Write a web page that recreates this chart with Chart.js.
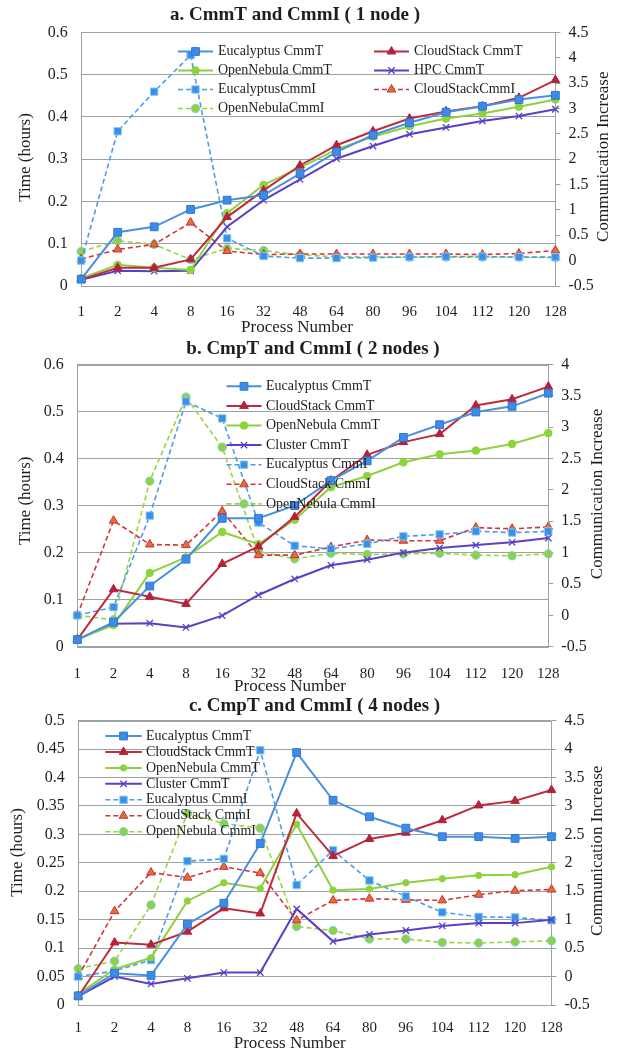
<!DOCTYPE html>
<html>
<head>
<meta charset="utf-8">
<title>CmmT and CmmI</title>
<script src="https://cdn.jsdelivr.net/npm/chart.js@4.4.0/dist/chart.umd.min.js"></script>
<style>
  html, body { margin: 0; padding: 0; background: #fff; }
  #wrap { position: relative; width: 618px; height: 1053px; overflow: hidden; }
  canvas { position: absolute; left: 0; }
</style>
</head>
<body>
<div id="wrap">
  <canvas id="chart-a" width="618" height="345" style="top:0"></canvas>
  <canvas id="chart-b" width="618" height="360" style="top:340px"></canvas>
  <canvas id="chart-c" width="618" height="363" style="top:690px"></canvas>
</div>
<script>
// Categories (process number)
const processNumbers = ['1', '2', '4', '8', '16', '32', '48', '64', '80', '96', '104', '112', '120', '128'];

// a. 1 node -- CmmT in hours (left axis), CmmI on right axis
const aEucalyptusCmmT = [0.016, 0.127, 0.140, 0.181, 0.203, 0.215, 0.266, 0.317, 0.357, 0.386, 0.411, 0.425, 0.441, 0.451];
const aCloudStackCmmT = [0.015, 0.043, 0.043, 0.063, 0.163, 0.226, 0.285, 0.333, 0.366, 0.396, 0.413, 0.425, 0.445, 0.487];
const aOpenNebulaCmmT = [0.018, 0.050, 0.043, 0.038, 0.172, 0.239, 0.280, 0.323, 0.353, 0.378, 0.396, 0.408, 0.424, 0.441];
const aHpcCmmT        = [0.015, 0.036, 0.035, 0.036, 0.140, 0.203, 0.252, 0.301, 0.331, 0.359, 0.375, 0.390, 0.402, 0.418];
const aEucalyptusCmmI = [0.00, 2.55, 3.33, 4.05, 0.44, 0.09, 0.05, 0.05, 0.06, 0.07, 0.08, 0.08, 0.07, 0.07];
const aCloudStackCmmI = [0.03, 0.22, 0.32, 0.75, 0.19, 0.12, 0.13, 0.13, 0.13, 0.13, 0.13, 0.12, 0.14, 0.20];
const aOpenNebulaCmmI = [0.18, 0.39, 0.32, 0.02, 0.24, 0.20, 0.11, 0.08, 0.07, 0.07, 0.07, 0.07, 0.07, 0.06];

// b. 2 nodes
const bEucalyptusCmmT = [0.015, 0.052, 0.129, 0.186, 0.273, 0.273, 0.300, 0.353, 0.395, 0.445, 0.472, 0.499, 0.511, 0.539];
const bCloudStackCmmT = [0.015, 0.122, 0.106, 0.091, 0.176, 0.213, 0.276, 0.353, 0.408, 0.435, 0.452, 0.513, 0.526, 0.553];
const bOpenNebulaCmmT = [0.016, 0.046, 0.157, 0.190, 0.244, 0.218, 0.270, 0.339, 0.363, 0.392, 0.409, 0.417, 0.431, 0.454];
const bClusterCmmT    = [0.015, 0.049, 0.050, 0.041, 0.066, 0.110, 0.144, 0.173, 0.185, 0.200, 0.210, 0.216, 0.222, 0.231];
const bEucalyptusCmmI = [0.00, 0.13, 1.59, 3.41, 3.14, 1.48, 1.11, 1.06, 1.14, 1.26, 1.29, 1.34, 1.32, 1.34];
const bCloudStackCmmI = [0.00, 1.51, 1.13, 1.12, 1.66, 0.96, 0.96, 1.09, 1.20, 1.19, 1.19, 1.40, 1.38, 1.41];
const bOpenNebulaCmmI = [0.00, -0.07, 2.14, 3.48, 2.68, 1.02, 0.90, 0.99, 0.97, 0.98, 0.99, 0.96, 0.95, 0.98];

// c. 4 nodes
const cEucalyptusCmmT = [0.016, 0.056, 0.052, 0.142, 0.179, 0.284, 0.444, 0.360, 0.331, 0.311, 0.296, 0.296, 0.293, 0.296];
const cCloudStackCmmT = [0.015, 0.110, 0.106, 0.129, 0.170, 0.161, 0.337, 0.262, 0.292, 0.303, 0.325, 0.351, 0.359, 0.378];
const cOpenNebulaCmmT = [0.019, 0.063, 0.083, 0.183, 0.215, 0.205, 0.318, 0.202, 0.204, 0.215, 0.222, 0.228, 0.229, 0.243];
const cClusterCmmT    = [0.015, 0.050, 0.037, 0.047, 0.057, 0.057, 0.169, 0.112, 0.124, 0.131, 0.139, 0.144, 0.144, 0.150];
const cEucalyptusCmmI = [0.00, 0.10, 0.29, 2.03, 2.07, 3.98, 1.61, 2.22, 1.69, 1.41, 1.13, 1.05, 1.04, 0.99];
const cCloudStackCmmI = [0.00, 1.15, 1.83, 1.74, 1.93, 1.82, 0.99, 1.34, 1.37, 1.35, 1.34, 1.44, 1.51, 1.53];
const cOpenNebulaCmmI = [0.14, 0.27, 1.26, 2.87, 2.69, 2.61, 0.88, 0.81, 0.66, 0.66, 0.60, 0.59, 0.61, 0.63];

// Legend labels
const aLabels = ['Eucalyptus CmmT', 'CloudStack CmmT', 'OpenNebula CmmT', 'HPC CmmT',
                 'EucalyptusCmmI', 'CloudStackCmmI', 'OpenNebulaCmmI'];
const bcLabels = ['Eucalyptus CmmT', 'CloudStack CmmT', 'OpenNebula CmmT', 'Cluster CmmT',
                  'Eucalyptus CmmI', 'CloudStack CmmI', 'OpenNebula CmmI'];

const SERIF = "'Liberation Serif', 'Times New Roman', serif";
const INK = '#1e1e1e';
const GRID = '#9aa3a6';

// Series looks: Eucalyptus squares, CloudStack triangles, OpenNebula circles, HPC/Cluster crosses
const LOOKS = [
    { line: '#4A90E0', fill: '#3D8BE6', edge: '#2F78D2', shape: 'rect',     r: 5.5, width: 2,   dash: [] },
    { line: '#BE2A3E', fill: '#B5223A', edge: '#B5223A', shape: 'triangle', r: 5,   width: 2,   dash: [] },
    { line: '#8ED13E', fill: '#8DD43C', edge: '#8DD43C', shape: 'circle',   r: 3.8, width: 2,   dash: [] },
    { line: '#5A40C4', fill: '#5A40C4', edge: '#5A40C4', shape: 'crossRot', r: 4.5, width: 2,   dash: [] },
    { line: '#4D9BEA', fill: '#3D8EE8', edge: '#7ECBEF', shape: 'rect',     r: 5.2, width: 1.6, dash: [5, 3] },
    { line: '#D4343F', fill: '#E2702E', edge: '#CC2E3E', shape: 'triangle', r: 5,   width: 1.6, dash: [5, 3] },
    { line: '#98D53E', fill: '#8DD43C', edge: '#86C9E8', shape: 'circle',   r: 4.2, width: 1.6, dash: [5, 3] }
];

function buildDatasets(labels, seriesList, greenT) {
    return seriesList.map((data, i) => {
        const look = LOOKS[i];
        const r = (i === 2 && greenT) ? greenT : look.r;
        return {
            label: labels[i],
            data: data,
            yAxisID: i < 4 ? 'y' : 'y1',
            borderColor: look.line,
            borderWidth: look.width,
            borderDash: look.dash,
            pointStyle: look.shape,
            pointRadius: r,
            pointHoverRadius: r,
            pointBackgroundColor: look.fill,
            pointBorderColor: look.edge,
            pointBorderWidth: look.shape === 'crossRot' ? 1.3 : 1,
            tension: 0,
            fill: false
        };
    });
}

// Frame, title, axis titles and the in-plot legend
const decor = {
    id: 'decor',
    beforeDatasetsDraw(chart) {
        const { ctx, chartArea: a } = chart;
        ctx.save();
        ctx.strokeStyle = GRID;
        ctx.lineWidth = 1;
        ctx.strokeRect(Math.round(a.left) + 0.5, Math.round(a.top) + 0.5,
                       Math.round(a.right - a.left), Math.round(a.bottom - a.top));
        ctx.restore();
    },
    afterDatasetsDraw(chart, args, o) {
        const ctx = chart.ctx;
        const lg = o.legend;
        ctx.save();
        chart.data.datasets.forEach((ds, i) => {
            const col = i % lg.cols.length;
            const row = Math.floor(i / lg.cols.length);
            const x = lg.cols[col];
            const y = lg.y0 + row * lg.dy;
            ctx.setLineDash(ds.borderDash);
            ctx.strokeStyle = ds.borderColor;
            ctx.lineWidth = ds.borderWidth;
            ctx.beginPath();
            ctx.moveTo(x, y);
            ctx.lineTo(x + lg.len, y);
            ctx.stroke();
            ctx.setLineDash([]);
            ctx.fillStyle = ds.pointBackgroundColor;
            ctx.strokeStyle = ds.pointBorderColor;
            ctx.lineWidth = ds.pointBorderWidth;
            Chart.helpers.drawPoint(ctx, {
                pointStyle: ds.pointStyle, radius: ds.pointRadius,
                rotation: 0, borderWidth: ds.pointBorderWidth
            }, x + lg.len / 2, y);
            ctx.fillStyle = INK;
            ctx.font = '14px ' + SERIF;
            ctx.textAlign = 'left';
            ctx.textBaseline = 'middle';
            ctx.fillText(ds.label, x + lg.len + lg.gap, y);
        });
        ctx.restore();
    },
    afterDraw(chart, args, o) {
        const ctx = chart.ctx;
        ctx.save();
        ctx.fillStyle = INK;
        ctx.textAlign = 'center';
        ctx.textBaseline = 'middle';
        ctx.font = 'bold 19px ' + SERIF;
        ctx.fillText(o.title, o.titleX, o.titleY);
        ctx.font = '17px ' + SERIF;
        ctx.fillText('Process Number', o.xTitle[0], o.xTitle[1]);
        ctx.save();
        ctx.translate(o.leftTitle[0], o.leftTitle[1]);
        ctx.rotate(-Math.PI / 2);
        ctx.fillText('Time (hours)', 0, 0);
        ctx.restore();
        ctx.translate(o.rightTitle[0], o.rightTitle[1]);
        ctx.rotate(-Math.PI / 2);
        ctx.fillText('Communication Increase', 0, 0);
        ctx.restore();
    }
};

const tickText = v => String(Math.round(v * 100) / 100);

function makePanel(p) {
    const canvas = document.getElementById(p.id);
    const W = canvas.width, H = canvas.height;
    return new Chart(canvas, {
        type: 'line',
        data: { labels: processNumbers, datasets: p.datasets },
        options: {
            responsive: false,
            animation: false,
            events: [],
            layout: { padding: { top: p.plot.top, left: 0, right: 0, bottom: 0 } },
            plugins: { legend: { display: false }, tooltip: { enabled: false }, decor: p.decor },
            scales: {
                x: {
                    afterFit: s => { s.height = H - p.plot.bottom; },
                    grid: { display: false },
                    border: { display: false },
                    ticks: { color: INK, font: { family: SERIF, size: 15 }, padding: p.xPad,
                             maxRotation: 0, autoSkip: false }
                },
                y: {
                    position: 'left', min: 0, max: p.yMax,
                    afterFit: s => { s.width = p.plot.left; },
                    grid: { color: GRID, drawTicks: false },
                    border: { display: false },
                    ticks: { stepSize: p.yStep, color: INK, font: { family: SERIF, size: 16 },
                             padding: 13.5, callback: tickText }
                },
                y1: {
                    position: 'right', min: -0.5, max: p.y1Max,
                    afterFit: s => { s.width = W - p.plot.right; },
                    grid: { drawOnChartArea: false, color: GRID, tickLength: 5 },
                    border: { display: false },
                    ticks: { stepSize: 0.5, color: INK, font: { family: SERIF, size: 16 },
                             padding: 8, callback: tickText }
                }
            }
        },
        plugins: [decor]
    });
}

makePanel({
    id: 'chart-a',
    plot: { left: 81.2, right: 555.4, top: 32.3, bottom: 286 },
    yMax: 0.6, yStep: 0.1, y1Max: 4.5, xPad: 9,
    datasets: buildDatasets(aLabels, [aEucalyptusCmmT, aCloudStackCmmT, aOpenNebulaCmmT, aHpcCmmT,
                                      aEucalyptusCmmI, aCloudStackCmmI, aOpenNebulaCmmI]),
    decor: {
        title: 'a. CmmT and CmmI ( 1 node )', titleX: 295, titleY: 15,
        xTitle: [297, 328], leftTitle: [25.6, 157.5], rightTitle: [604, 156.7],
        legend: { cols: [178, 374], y0: 51.5, dy: 19, len: 35, gap: 5 }
    }
});

makePanel({
    id: 'chart-b',
    plot: { left: 77.3, right: 548.3, top: 24.5, bottom: 306.7 },
    yMax: 0.6, yStep: 0.1, y1Max: 4, xPad: 10,
    datasets: buildDatasets(bcLabels, [bEucalyptusCmmT, bCloudStackCmmT, bOpenNebulaCmmT, bClusterCmmT,
                                       bEucalyptusCmmI, bCloudStackCmmI, bOpenNebulaCmmI]),
    decor: {
        title: 'b. CmpT and CmmI ( 2 nodes )', titleX: 313, titleY: 9.5,
        xTitle: [290, 347], leftTitle: [25.6, 160.8], rightTitle: [597.5, 154],
        legend: { cols: [226.5], y0: 46.3, dy: 19.6, len: 35, gap: 4.5 }
    }
});

makePanel({
    id: 'chart-c',
    plot: { left: 78.2, right: 551.5, top: 30.7, bottom: 315 },
    yMax: 0.5, yStep: 0.05, y1Max: 4.5, xPad: 6,
    datasets: buildDatasets(bcLabels, [cEucalyptusCmmT, cCloudStackCmmT, cOpenNebulaCmmT, cClusterCmmT,
                                       cEucalyptusCmmI, cCloudStackCmmI, cOpenNebulaCmmI], 3.2),
    decor: {
        title: 'c. CmpT and CmmI ( 4 nodes )', titleX: 314.5, titleY: 16,
        xTitle: [289.7, 354], leftTitle: [17.7, 162.5], rightTitle: [597.7, 160.8],
        legend: { cols: [105.3], y0: 46, dy: 15.95, len: 36.5, gap: 4.2 }
    }
});
</script>
</body>
</html>
